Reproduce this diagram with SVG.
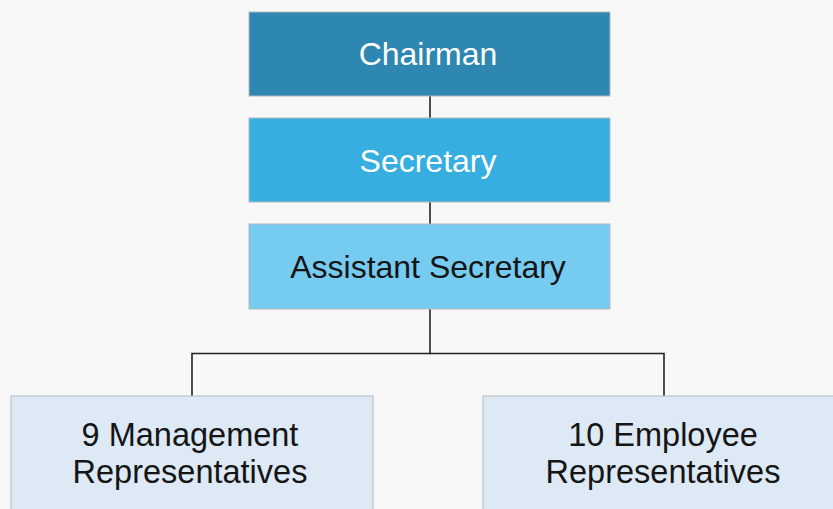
<svg xmlns="http://www.w3.org/2000/svg" width="833" height="509" viewBox="0 0 833 509">
<style>
.box{stroke:#b4b8bc;stroke-width:1}
.t{font-family:"Liberation Sans",Arial,sans-serif;font-size:32px;text-anchor:middle}
.b{font-size:32.5px}
.w{fill:#ffffff}
.d{fill:#151515}
.c{fill:none;stroke:#222;stroke-width:1.6}
</style>
<rect width="833" height="509" fill="#f8f8f8"/>
<g id="connectors">
<line class="c" x1="430" y1="96" x2="430" y2="118"/>
<line class="c" x1="430" y1="202" x2="430" y2="224"/>
<polyline class="c" points="430,309 430,353.5 192,353.5 192,396"/>
<polyline class="c" points="430,353.5 664,353.5 664,396"/>
</g>
<g id="chairman">
<rect class="box" x="249" y="12" width="361" height="84" fill="#2d87b1"/>
<text class="t w" x="428" y="65">Chairman</text>
</g>
<g id="secretary">
<rect class="box" x="249" y="118" width="361" height="84" fill="#37aee0"/>
<text class="t w" x="428" y="172">Secretary</text>
</g>
<g id="assistant">
<rect class="box" x="249" y="224" width="361" height="85" fill="#75cbf0"/>
<text class="t d" x="428" y="278">Assistant Secretary</text>
</g>
<g id="management">
<rect class="box" x="11" y="396" width="362" height="130" fill="#dde9f5"/>
<text class="t b d" x="190" y="446">9 Management</text>
<text class="t b d" x="190" y="483">Representatives</text>
</g>
<g id="employee">
<rect class="box" x="483" y="396" width="362" height="130" fill="#dde9f5"/>
<text class="t b d" x="663" y="446">10 Employee</text>
<text class="t b d" x="663" y="483">Representatives</text>
</g>
</svg>
